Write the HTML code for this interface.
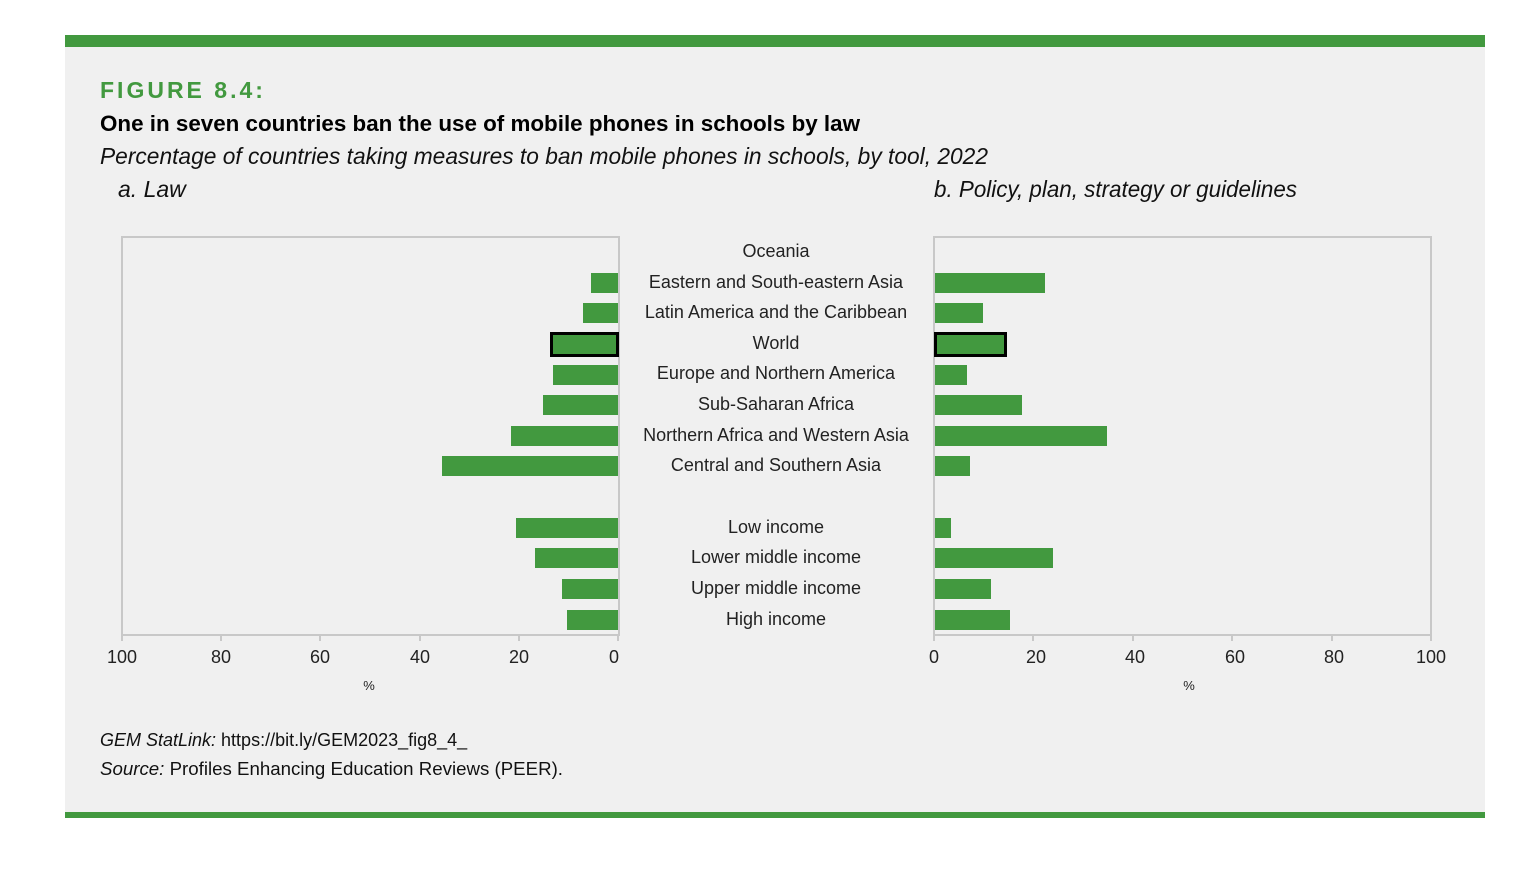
<!DOCTYPE html>
<html><head><style>
body{margin:0;background:#fff;width:1523px;height:879px;overflow:hidden}
svg{display:block}
text{font-family:"Liberation Sans",sans-serif}
</style></head><body>
<svg width="1523" height="879" viewBox="0 0 1523 879">
<rect x="65" y="35" width="1420" height="783" fill="#f0f0f0"/>
<rect x="65" y="35" width="1420" height="12" fill="#42993f"/>
<rect x="65" y="812" width="1420" height="6" fill="#42993f"/>
<text x="100" y="98" font-size="23" font-weight="bold" fill="#42993f" letter-spacing="3">FIGURE 8.4:</text>
<text x="100" y="131" font-size="22" font-weight="bold" fill="#000" textLength="760" lengthAdjust="spacingAndGlyphs">One in seven countries ban the use of mobile phones in schools by law</text>
<text x="100" y="164" font-size="23" font-style="italic" fill="#111" textLength="888" lengthAdjust="spacingAndGlyphs">Percentage of countries taking measures to ban mobile phones in schools, by tool, 2022</text>
<text x="118" y="197" font-size="23" font-style="italic" fill="#111">a. Law</text>
<text x="934" y="197" font-size="23" font-style="italic" fill="#111" textLength="363" lengthAdjust="spacingAndGlyphs">b. Policy, plan, strategy or guidelines</text>
<g fill="none" stroke="#c8c8c8" stroke-width="2">
<rect x="122" y="237" width="497" height="398"/>
<rect x="934" y="237" width="497" height="398"/>
</g>
<g stroke="#c8c8c8" stroke-width="2">
<line x1="122" y1="635" x2="122" y2="641"/><line x1="221" y1="635" x2="221" y2="641"/><line x1="320" y1="635" x2="320" y2="641"/><line x1="420" y1="635" x2="420" y2="641"/><line x1="519" y1="635" x2="519" y2="641"/><line x1="618" y1="635" x2="618" y2="641"/>
<line x1="934" y1="635" x2="934" y2="641"/><line x1="1033" y1="635" x2="1033" y2="641"/><line x1="1133" y1="635" x2="1133" y2="641"/><line x1="1232" y1="635" x2="1232" y2="641"/><line x1="1332" y1="635" x2="1332" y2="641"/><line x1="1431" y1="635" x2="1431" y2="641"/>
</g>
<g font-size="18" fill="#222" text-anchor="middle">
<text x="122" y="663">100</text><text x="221" y="663">80</text><text x="320" y="663">60</text><text x="420" y="663">40</text><text x="519" y="663">20</text><text x="614" y="663">0</text>
<text x="934" y="663">0</text><text x="1036" y="663">20</text><text x="1135" y="663">40</text><text x="1235" y="663">60</text><text x="1334" y="663">80</text><text x="1431" y="663">100</text>
<text x="369" y="690" font-size="13">%</text><text x="1189" y="690" font-size="13">%</text>
</g>
<g fill="#42993f">
<rect x="591" y="273" width="27" height="20"/>
<rect x="583" y="303" width="35" height="20"/>
<rect x="553" y="365" width="65" height="20"/>
<rect x="543" y="395" width="75" height="20"/>
<rect x="511" y="426" width="107" height="20"/>
<rect x="442" y="456" width="176" height="20"/>
<rect x="516" y="518" width="102" height="20"/>
<rect x="535" y="548" width="83" height="20"/>
<rect x="562" y="579" width="56" height="20"/>
<rect x="567" y="610" width="51" height="20"/>
<rect x="935" y="273" width="110" height="20"/>
<rect x="935" y="303" width="48" height="20"/>
<rect x="935" y="365" width="32" height="20"/>
<rect x="935" y="395" width="87" height="20"/>
<rect x="935" y="426" width="172" height="20"/>
<rect x="935" y="456" width="35" height="20"/>
<rect x="935" y="518" width="16" height="20"/>
<rect x="935" y="548" width="118" height="20"/>
<rect x="935" y="579" width="56" height="20"/>
<rect x="935" y="610" width="75" height="20"/>
</g>
<g fill="#42993f" stroke="#000" stroke-width="3">
<rect x="551.5" y="333.5" width="66" height="22"/>
<rect x="935.5" y="333.5" width="70" height="22"/>
</g>
<g font-size="18" fill="#222" text-anchor="middle">
<text x="776" y="257">Oceania</text>
<text x="776" y="288">Eastern and South-eastern Asia</text>
<text x="776" y="318">Latin America and the Caribbean</text>
<text x="776" y="349">World</text>
<text x="776" y="379">Europe and Northern America</text>
<text x="776" y="410">Sub-Saharan Africa</text>
<text x="776" y="441">Northern Africa and Western Asia</text>
<text x="776" y="471">Central and Southern Asia</text>
<text x="776" y="533">Low income</text>
<text x="776" y="563">Lower middle income</text>
<text x="776" y="594">Upper middle income</text>
<text x="776" y="625">High income</text>
</g>
<text x="100" y="746" font-size="18" fill="#111"><tspan font-style="italic">GEM StatLink:</tspan> https://bit.ly/GEM2023_fig8_4_</text>
<text x="100" y="775" font-size="18" fill="#111" textLength="463" lengthAdjust="spacingAndGlyphs"><tspan font-style="italic">Source:</tspan> Profiles Enhancing Education Reviews (PEER).</text>
</svg>
</body></html>
